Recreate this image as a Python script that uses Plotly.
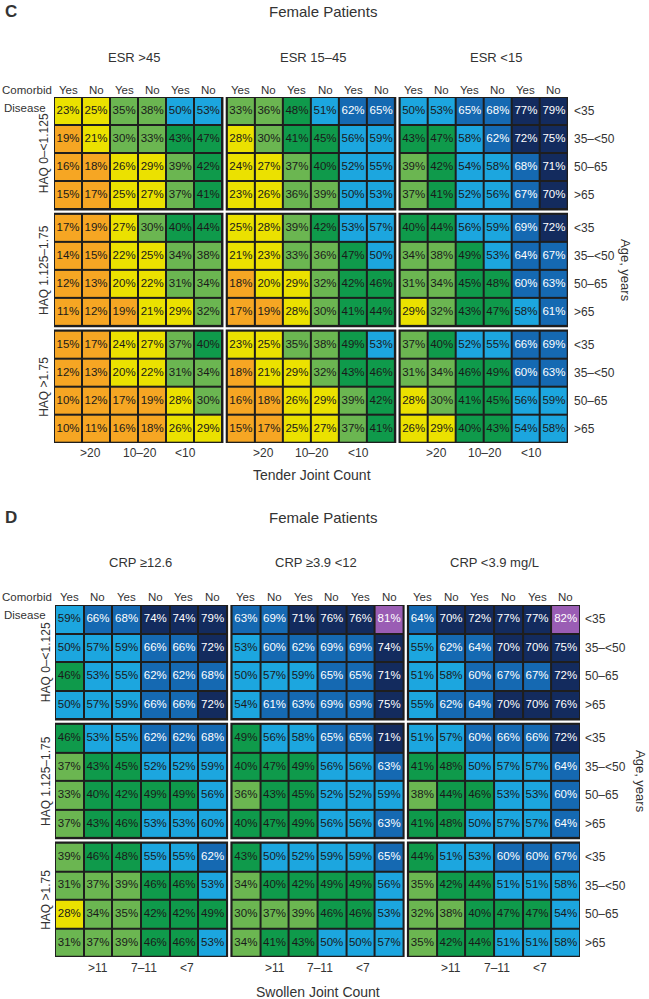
import plotly.graph_objects as go

W, H = 649, 999
FONT = "Liberation Sans, Arial, Helvetica, sans-serif"
DARK = "#1e1e1e"

# ---------------- data ----------------
col_headers = ["Yes", "No", "Yes", "No", "Yes", "No"]
age_labels = ["<35", "35–<50", "50–65", ">65"]
haq_labels = ["HAQ 0–<1.125", "HAQ 1.125–1.75", "HAQ >1.75"]

esr_labels = ["ESR >45", "ESR 15–45", "ESR <15"]
tjc_labels = [">20", "10–20", "<10"]
crp_labels = ["CRP ≥12.6", "CRP ≥3.9 <12", "CRP <3.9 mg/L"]
sjc_labels = [">11", "7–11", "<7"]

# Panel C (rows: HAQ group x age; cols: comorbid Yes/No x TJC)
esr_gt45 = [
    [23, 25, 35, 38, 50, 53],
    [19, 21, 30, 33, 43, 47],
    [16, 18, 26, 29, 39, 42],
    [15, 17, 25, 27, 37, 41],
    [17, 19, 27, 30, 40, 44],
    [14, 15, 22, 25, 34, 38],
    [12, 13, 20, 22, 31, 34],
    [11, 12, 19, 21, 29, 32],
    [15, 17, 24, 27, 37, 40],
    [12, 13, 20, 22, 31, 34],
    [10, 12, 17, 19, 28, 30],
    [10, 11, 16, 18, 26, 29],
]
esr_15_45 = [
    [33, 36, 48, 51, 62, 65],
    [28, 30, 41, 45, 56, 59],
    [24, 27, 37, 40, 52, 55],
    [23, 26, 36, 39, 50, 53],
    [25, 28, 39, 42, 53, 57],
    [21, 23, 33, 36, 47, 50],
    [18, 20, 29, 32, 42, 46],
    [17, 19, 28, 30, 41, 44],
    [23, 25, 35, 38, 49, 53],
    [18, 21, 29, 32, 43, 46],
    [16, 18, 26, 29, 39, 42],
    [15, 17, 25, 27, 37, 41],
]
esr_lt15 = [
    [50, 53, 65, 68, 77, 79],
    [43, 47, 58, 62, 72, 75],
    [39, 42, 54, 58, 68, 71],
    [37, 41, 52, 56, 67, 70],
    [40, 44, 56, 59, 69, 72],
    [34, 38, 49, 53, 64, 67],
    [31, 34, 45, 48, 60, 63],
    [29, 32, 43, 47, 58, 61],
    [37, 40, 52, 55, 66, 69],
    [31, 34, 46, 49, 60, 63],
    [28, 30, 41, 45, 56, 59],
    [26, 29, 40, 43, 54, 58],
]

# Panel D (rows: HAQ group x age; cols: comorbid Yes/No x SJC)
crp_ge126 = [
    [59, 66, 68, 74, 74, 79],
    [50, 57, 59, 66, 66, 72],
    [46, 53, 55, 62, 62, 68],
    [50, 57, 59, 66, 66, 72],
    [46, 53, 55, 62, 62, 68],
    [37, 43, 45, 52, 52, 59],
    [33, 40, 42, 49, 49, 56],
    [37, 43, 46, 53, 53, 59.6],
    [39, 46, 48, 55, 55, 62],
    [31, 37, 39, 46, 46, 53],
    [28, 34, 35, 42, 42, 49],
    [31, 37, 39, 46, 46, 53],
]
crp_39_12 = [
    [63, 69, 71, 76, 76, 81],
    [53, 60, 62, 69, 69, 74],
    [50, 57, 59, 65, 65, 71],
    [54, 61, 63, 69, 69, 75],
    [49, 56, 58, 65, 65, 71],
    [40, 47, 49, 56, 56, 63],
    [36, 43, 45, 52, 52, 59],
    [40, 47, 49, 56, 56, 63],
    [43, 50, 52, 59, 59, 65],
    [34, 40, 42, 49, 49, 56],
    [30, 37, 39, 46, 46, 53],
    [34, 41, 43, 50, 50, 57],
]
crp_lt39 = [
    [64, 70, 72, 77, 77, 82],
    [55, 62, 64, 70, 70, 75],
    [51, 58, 60, 67, 67, 72],
    [55, 62, 64, 70, 70, 76],
    [51, 57, 60, 66, 66, 72],
    [41, 48, 50, 57, 57, 64],
    [38, 44, 46, 53, 53, 60],
    [41, 48, 50, 57, 57, 64],
    [44, 51, 53, 60, 60, 67],
    [35, 42, 44, 51, 51, 58],
    [32, 38, 40, 47, 47, 54],
    [35, 42, 44, 51, 51, 58],
]

# ---------------- style ----------------
bin_colors = ["#F6A623", "#EBE100", "#6BB651", "#0F9A4B",
              "#1CA6DF", "#1569B2", "#132B5E", "#9A5DB4"]
bin_edges = [0, 19.95, 29.95, 39.95, 49.95, 59.95, 69.95, 79.95, 100]
colorscale = []
for i, c in enumerate(bin_colors):
    colorscale.append([bin_edges[i] / 100, c])
    colorscale.append([bin_edges[i + 1] / 100, c])

GX, GY = 0.16, 0.16   # gaps between blocks (cell units)
EXT = 0.04            # dark outline extension


def px_x(p):
    return p / W


def px_y(p):
    return 1 - p / H


fig = go.Figure()
shapes = []
annotations = []


def add_panel(blocks, xa, ya, xdom_px, ydom_px, letter, top_px, block_labels,
              block_label_px, block_label_y, comorb_y, tick_labels, tick_pos,
              tick_y, axis_title, axis_title_x, axis_title_y, haq_x, age_x,
              agetitle_x):
    xs = "x" if xa == "xaxis" else "x2"
    ys = "y" if ya == "yaxis" else "y2"
    for b, block in enumerate(blocks):
        x0 = b * (6 + GX)
        for g in range(3):
            y0 = g * (4 + GY)
            z = block[g * 4:(g + 1) * 4]
            xs_c = [x0 + j for j in range(6)]
            ys_c = [y0 + r for r in range(4)]
            shapes.append(dict(type="rect", xref=xs, yref=ys, layer="below",
                               x0=x0 - 0.5 - EXT, x1=x0 + 5.5 + EXT,
                               y0=y0 - 0.5 - EXT, y1=y0 + 3.5 + EXT,
                               fillcolor=DARK, line=dict(width=0)))
            fig.add_trace(go.Heatmap(
                x=xs_c, y=ys_c, z=z, xaxis=xs, yaxis=ys,
                colorscale=colorscale, zmin=0, zmax=100, showscale=False,
                xgap=2, ygap=2, hoverinfo="skip"))
            tx, ty, tt, tc = [], [], [], []
            for r in range(4):
                for j in range(6):
                    v = z[r][j]
                    tx.append(xs_c[j])
                    ty.append(ys_c[r])
                    tt.append(f"{round(v)}%")
                    tc.append("white" if v >= 59.95 else "#1a1a1a")
            fig.add_trace(go.Scatter(
                x=tx, y=ty, text=tt, mode="text", xaxis=xs, yaxis=ys,
                textfont=dict(family=FONT, size=11.5, color=tc),
                hoverinfo="skip", showlegend=False, cliponaxis=False))
        # column headers
        for j, h in enumerate(col_headers):
            annotations.append(dict(x=x0 + j, y=px_y(comorb_y), xref=xs, yref="paper",
                                    text=h, showarrow=False, xanchor="center",
                                    yanchor="middle", font=dict(size=11.5)))
        # tick labels
        for k, t in enumerate(tick_labels):
            annotations.append(dict(x=x0 + tick_pos[k], y=px_y(tick_y), xref=xs,
                                    yref="paper", text=t, showarrow=False,
                                    xanchor="center", yanchor="middle",
                                    font=dict(size=12)))
        annotations.append(dict(x=px_x(block_label_px[b]), y=px_y(block_label_y),
                                xref="paper", yref="paper", text=block_labels[b],
                                showarrow=False, xanchor="center", yanchor="middle",
                                font=dict(size=13)))
    # age labels and HAQ labels
    for g in range(3):
        y0 = g * (4 + GY)
        for r, a in enumerate(age_labels):
            annotations.append(dict(x=px_x(age_x), y=y0 + r, xref="paper", yref=ys,
                                    text=a, showarrow=False, xanchor="left",
                                    yanchor="middle", font=dict(size=12)))
        annotations.append(dict(x=px_x(haq_x), y=y0 + 1.5, xref="paper", yref=ys,
                                text=haq_labels[g], showarrow=False, textangle=-90,
                                xanchor="center", yanchor="middle",
                                font=dict(size=12)))
    annotations.append(dict(x=px_x(agetitle_x), y=(2 * (4 + GY) + 3) / 2, xref="paper",
                            yref=ys, text="Age, years", showarrow=False, textangle=90,
                            xanchor="center", yanchor="middle", font=dict(size=13)))
    annotations.append(dict(x=0, y=px_y(comorb_y), xref="paper", yref="paper",
                            text="Comorbid", showarrow=False, xanchor="left",
                            yanchor="middle", font=dict(size=11.5)))
    annotations.append(dict(x=px_x(2), y=px_y(comorb_y + 18), xref="paper", yref="paper",
                            text="Disease", showarrow=False, xanchor="left",
                            yanchor="middle", font=dict(size=11.5)))
    annotations.append(dict(x=px_x(3), y=px_y(top_px), xref="paper", yref="paper",
                            text=f"<b>{letter}</b>", showarrow=False, xanchor="left",
                            yanchor="middle", font=dict(size=17)))
    annotations.append(dict(x=px_x(323), y=px_y(top_px), xref="paper", yref="paper",
                            text="Female Patients", showarrow=False, xanchor="center",
                            yanchor="middle", font=dict(size=15)))
    annotations.append(dict(x=px_x(axis_title_x), y=px_y(axis_title_y), xref="paper",
                            yref="paper", text=axis_title, showarrow=False,
                            xanchor="center", yanchor="middle", font=dict(size=14)))
    xr = [-0.5, 17.5 + 2 * GX]
    yr = [11.5 + 2 * GY, -0.5]
    fig.update_layout(**{
        xa: dict(domain=[px_x(xdom_px[0]), px_x(xdom_px[1])], range=xr,
                 visible=False, fixedrange=True),
        ya: dict(domain=[px_y(ydom_px[1]), px_y(ydom_px[0])], range=yr,
                 visible=False, fixedrange=True),
    })


add_panel([esr_gt45, esr_15_45, esr_lt15], "xaxis", "yaxis", (54, 568), (97, 443),
          "C", 12, esr_labels, [134, 313, 496], 57, 90, tjc_labels,
          [0.8, 2.55, 4.2], 453, "Tender Joint Count", 312, 475, 44, 572, 626)
add_panel([crp_ge126, crp_39_12, crp_lt39], "xaxis2", "yaxis2", (55, 580), (605, 957),
          "D", 517, crp_labels, [140, 316, 494], 562, 597, sjc_labels,
          [1.0, 2.6, 4.1], 968, "Swollen Joint Count", 318, 992, 46, 583, 641)

fig.update_layout(
    width=W, height=H, autosize=False,
    margin=dict(l=0, r=0, t=0, b=0),
    paper_bgcolor="white", plot_bgcolor="white",
    font=dict(family=FONT, color="#333333", size=12),
    showlegend=False,
    shapes=shapes, annotations=annotations,
)

fig.write_html("out.html", post_script="document.body.style.margin='0';",
               config={"displayModeBar": False, "staticPlot": True})
